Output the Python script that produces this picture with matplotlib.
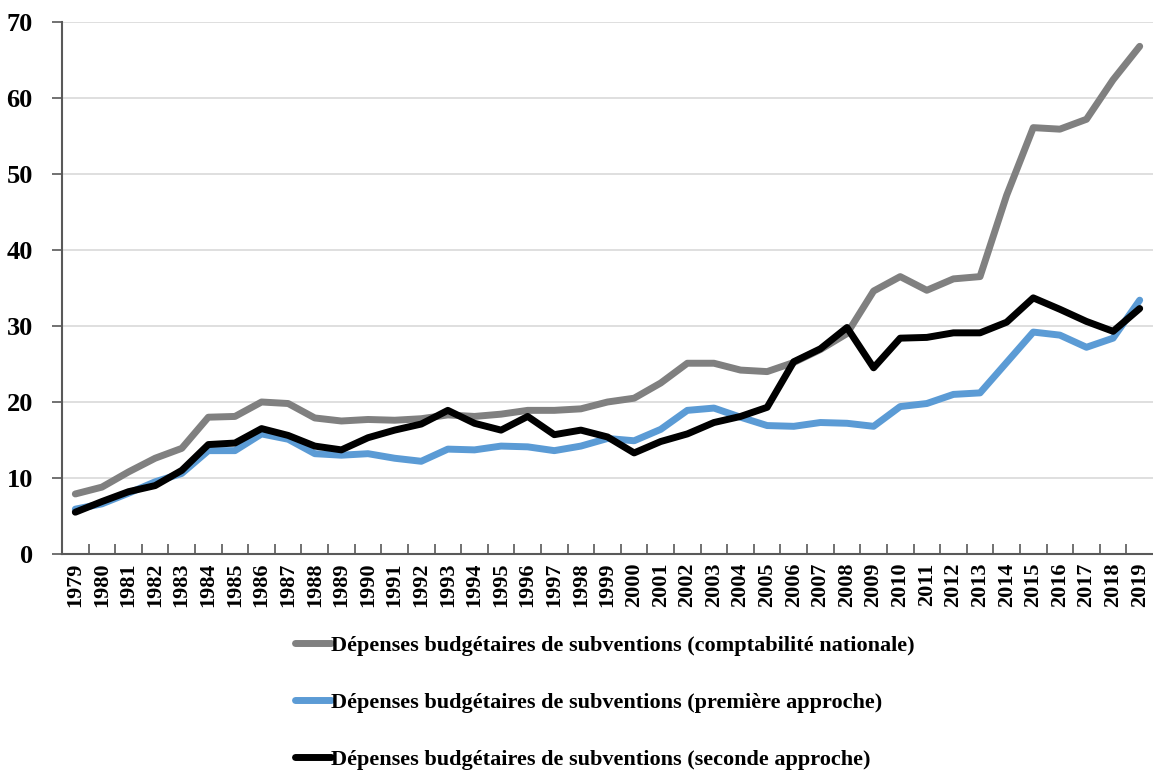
import matplotlib
matplotlib.use("Agg")
import matplotlib.pyplot as plt
import numpy as np

years = list(range(1979, 2020))

compta_nationale = [7.9, 8.8, 10.8, 12.6, 13.9, 18.0, 18.1, 20.0, 19.8, 17.9,
                    17.5, 17.7, 17.6, 17.8, 18.3, 18.1, 18.4, 18.9, 18.9, 19.1,
                    20.0, 20.5, 22.5, 25.1, 25.1, 24.2, 24.0, 25.2, 26.9, 29.0,
                    34.6, 36.5, 34.7, 36.2, 36.5, 47.2, 56.1, 55.9, 57.2, 62.4,
                    66.8]

premiere_approche = [5.9, 6.6, 8.0, 9.5, 10.6, 13.6, 13.6, 15.8, 15.1, 13.2,
                     13.0, 13.2, 12.6, 12.2, 13.8, 13.7, 14.2, 14.1, 13.6, 14.2,
                     15.2, 14.9, 16.4, 18.9, 19.2, 18.0, 16.9, 16.8, 17.3, 17.2,
                     16.8, 19.4, 19.8, 21.0, 21.2, 25.2, 29.2, 28.8, 27.2, 28.4,
                     33.4]

seconde_approche = [5.5, 6.9, 8.2, 9.0, 11.0, 14.4, 14.6, 16.5, 15.6, 14.2,
                    13.7, 15.3, 16.3, 17.1, 18.9, 17.2, 16.3, 18.1, 15.7, 16.3,
                    15.4, 13.3, 14.8, 15.8, 17.3, 18.1, 19.3, 25.3, 27.0, 29.8,
                    24.5, 28.4, 28.5, 29.1, 29.1, 30.5, 33.7, 32.2, 30.6, 29.3,
                    32.3]

labels = ["Dépenses budgétaires de subventions (comptabilité nationale)",
          "Dépenses budgétaires de subventions (première approche)",
          "Dépenses budgétaires de subventions (seconde approche)"]
colors = ["#808080", "#5B9BD5", "#000000"]

serif = ["Liberation Serif", "DejaVu Serif"]

fig = plt.figure(figsize=(11.53, 7.72), dpi=100)
ax = fig.add_axes([62 / 1153, 1 - 554 / 772, 1 - 62 / 1153, (554 - 22) / 772])

x = np.arange(len(years))
for series, lab, col in zip([compta_nationale, premiere_approche, seconde_approche],
                            labels, colors):
    ax.plot(x, series, color=col, linewidth=5, label=lab,
            solid_capstyle="round", solid_joinstyle="round")

ax.set_xlim(-0.5, len(years) - 0.5)
ax.set_ylim(0, 70)
ax.set_yticks(range(0, 71, 10))
ax.yaxis.grid(True, color="#d9d9d9", linewidth=1.2)
ax.set_axisbelow(True)

ax.set_xticks(x)
ax.set_xticklabels([str(y) for y in years], rotation=90, fontsize=16,
                   fontweight="bold", family=serif)
ax.tick_params(axis="x", which="major", length=0, pad=6)
ax.set_xticks(np.arange(0.5, len(years) - 0.5, 1), minor=True)
ax.tick_params(axis="x", which="minor", direction="in", length=7,
               color="#595959", width=1.2)
ax.tick_params(axis="y", length=7, color="#595959", width=1.2, pad=14)
for t in ax.get_yticklabels():
    t.set_fontsize(19)
    t.set_fontweight("bold")
    t.set_family(serif)

for side in ["top", "right"]:
    ax.spines[side].set_visible(False)
for side in ["left", "bottom"]:
    ax.spines[side].set_color("#595959")
    ax.spines[side].set_linewidth(1.5)

leg = fig.legend(loc="upper left", bbox_to_anchor=(295 / 1153, 1 - 635 / 772),
                 frameon=False, ncol=1, handlelength=1.6, handletextpad=0.0,
                 labelspacing=1.65, borderpad=0, borderaxespad=0,
                 prop={"family": serif, "weight": "bold", "size": 16})

fig.savefig("out.png", dpi=100)
